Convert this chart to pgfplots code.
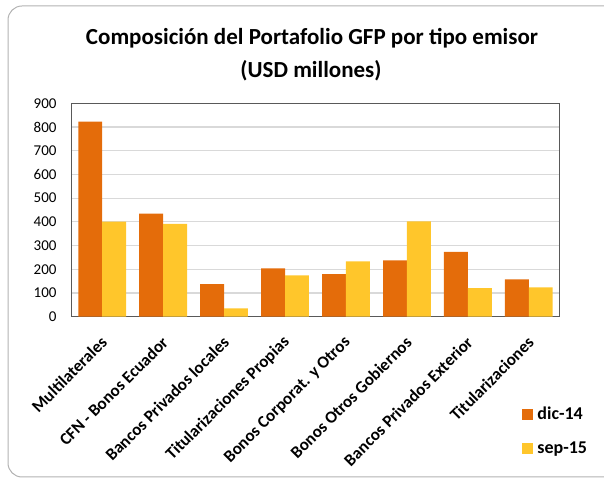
\documentclass[border=0pt]{standalone}
\usepackage{fontspec}
\setmainfont{Carlito}
\usepackage{pgfplots}
\pgfplotsset{compat=1.18}
\definecolor{cA}{HTML}{E46C0A}
\definecolor{cB}{HTML}{FFC62B}
\begin{document}
\begin{tikzpicture}[x=1pt,y=1pt]
\useasboundingbox (0,0) rectangle (604,481);
\draw[color=black!30, line width=1pt, rounded corners=14pt] (8,4) rectangle (650,475);
\node[anchor=base, font=\bfseries\fontsize{23}{27}\selectfont, inner sep=0pt] at (312,436.7) {Composición del Portafolio GFP por tipo emisor};
\node[anchor=base, font=\bfseries\fontsize{23}{27}\selectfont, inner sep=0pt] at (311,403.5) {(USD millones)};
\begin{axis}[
  at={(71.7pt,164.3pt)}, anchor=south west,
  scale only axis, width=487.6pt, height=213.4pt,
  ybar=0pt, bar width=23.9pt,
  ymin=0, ymax=900, ytick={0,100,...,900},
  xmin=-0.5, xmax=7.5, xtick={0,...,7},
  xticklabels={Multilaterales,CFN - Bonos Ecuador,Bancos Privados locales,Titularizaciones Propias,Bonos Corporat. y Otros,Bonos Otros Gobiernos,Bancos Privados Exterior,Titularizaciones},
  x tick label style={xshift=2pt, yshift=-23pt, rotate=45, anchor=east, font=\bfseries\fontsize{17}{18}\selectfont, inner sep=0pt},
  y tick label style={font=\fontsize{15}{16}\selectfont, inner sep=0pt, xshift=-15pt},
  /pgf/number format/assume math mode=true,
  ymajorgrids, grid style={draw=black!15, line width=1.2pt},
  axis line style={draw=black!65, line width=1pt},
  major tick length=0pt, tick style={draw=none},
  legend style={at={(0.9229,-0.42)}, anchor=north west, draw=none, fill=none, inner sep=0pt,
    font=\bfseries\fontsize{18}{20}\selectfont,
    nodes={inner sep=0pt, text height=13pt, text depth=3pt},
    /tikz/row sep=18.3pt, /tikz/column sep=4.5pt},
  legend cell align=left,
  legend image code/.code={\fill[#1] (0pt,-5.5pt) rectangle (11pt,5.5pt);},
  clip=false,
]
\addplot[fill=cA, draw=none] coordinates {(0,823) (1,435) (2,137) (3,204) (4,180) (5,238) (6,273) (7,157)};
\addplot[fill=cB, draw=none] coordinates {(0,401) (1,391) (2,35) (3,174) (4,233) (5,402) (6,120) (7,124)};
\legend{dic-14,sep-15}
\end{axis}
\end{tikzpicture}
\end{document}
